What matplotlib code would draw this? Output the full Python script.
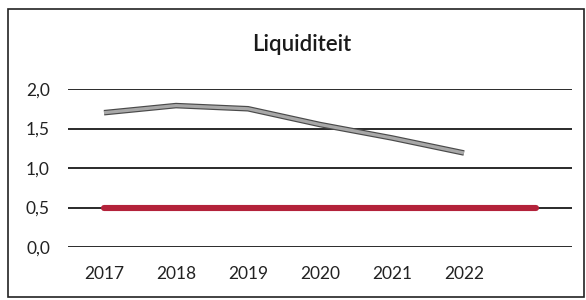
import matplotlib.pyplot as plt
import numpy as np
from matplotlib.patches import Rectangle

years = ["2017", "2018", "2019", "2020", "2021", "2022", ""]
liquiditeit = [1.70, 1.79, 1.75, 1.55, 1.38, 1.19]
norm = [0.5, 0.5, 0.5, 0.5, 0.5, 0.5, 0.5]
yticks = [0.0, 0.5, 1.0, 1.5, 2.0]

plt.rcParams['font.family'] = ['Lato', 'DejaVu Sans']

fig = plt.figure(figsize=(5.86, 3.0), dpi=100)
fig.patches.append(Rectangle((8 / 586, 3 / 300), 576 / 586, 288 / 300, transform=fig.transFigure,
                             fill=False, edgecolor="#222222", linewidth=1.2))
ax = fig.add_axes([68 / 586, 53 / 300, 504 / 586, 158 / 300])

x = np.arange(len(years))

ax.yaxis.grid(True, color="#2a2a2a", linewidth=1.4)
ax.set_axisbelow(True)

ax.plot(x, norm, color="#b3223a", linewidth=4.4, solid_capstyle="round", zorder=3)

# grey line with dark outline
xl = x[:len(liquiditeit)]
ax.plot(xl, liquiditeit, color="#4a4a4a", linewidth=4.0, solid_joinstyle="round",
        solid_capstyle="butt", zorder=4)
ax.plot(xl, liquiditeit, color="#a8a8a8", linewidth=2.3, solid_joinstyle="round",
        solid_capstyle="butt", zorder=5)

ax.set_xlim(-0.5, len(years) - 0.5)
ax.set_ylim(0, 2.0)
ax.set_xticks(x)
ax.set_xticklabels(years)
ax.set_yticks(yticks)
ax.set_yticklabels([f"{v:.1f}".replace(".", ",") for v in yticks])
ax.tick_params(length=0, labelsize=12.5, colors="#222222")
ax.tick_params(axis="y", pad=13)
ax.tick_params(axis="x", pad=14)
for s in ax.spines.values():
    s.set_visible(False)

fig.text(302 / 586, 1 - 44 / 300, "Liquiditeit", ha="center", va="center", fontsize=16,
         fontweight="semibold", color="#1a1a1a")

fig.savefig("out.png", dpi=100)
